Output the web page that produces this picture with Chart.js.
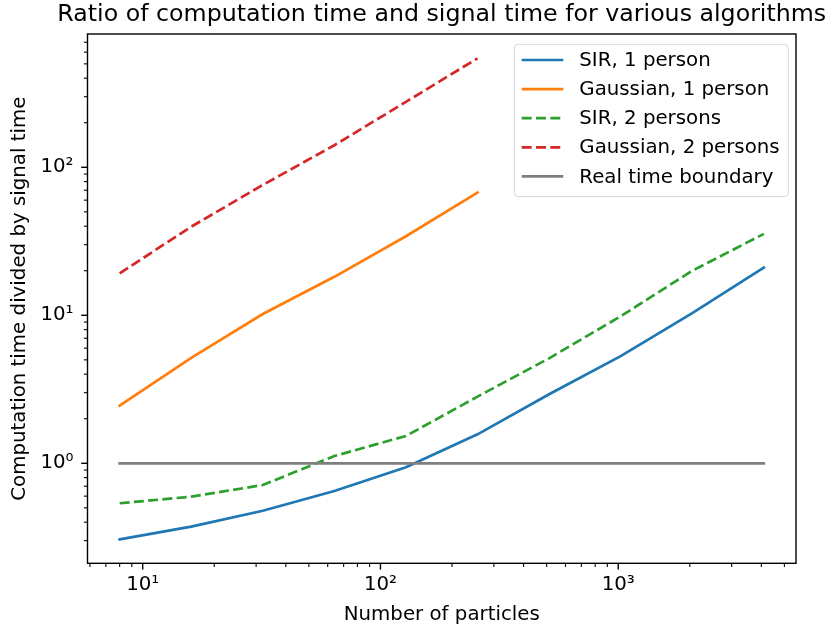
<!DOCTYPE html>
<html>

<head>
    <title>Computation time ratio</title>
    <script src="https://cdn.jsdelivr.net/npm/chart.js@4.4.0/dist/chart.umd.min.js"></script>
    <style>
        body {
            margin: 0;
            background: white;
        }

        #wrap {
            width: 832px;
            height: 629px;
        }
    </style>
</head>

<body>
    <div id="wrap"><canvas id="ratio_chart"></canvas></div>

    <script>
        // values
        const particles = [8, 16, 32, 64, 128, 256, 512, 1024, 2048, 4096];
        const sir1 = [0.306, 0.373, 0.478, 0.650, 0.94, 1.57, 2.93, 5.3, 10.35, 21.0];
        const gauss1 = [2.45, 5.15, 10.2, 18.2, 34.2, 67.5];
        const sir2 = [0.537, 0.595, 0.713, 1.12, 1.53, 2.82, 5.12, 9.85, 20.0, 35.5];
        const gauss2 = [19.2, 39.7, 76, 141, 277, 545];
        const boundaryX = [8, 4096];
        const boundaryY = [1, 1];

        const labels = ['SIR, 1 person', 'Gaussian, 1 person', 'SIR, 2 persons', 'Gaussian, 2 persons', 'Real time boundary'];
        const colors = ['#1f77b4', '#ff7f0e', '#2ca02c', '#d62728', '#7f7f7f'];
        const titleText = 'Ratio of computation time and signal time for various algorithms';
        const sup = { '0': '\u2070', '1': '\u00b9', '2': '\u00b2', '3': '\u00b3' };

        const FONT = "'DejaVu Sans', sans-serif";
        const FS = 19.8;
        const dash = [10, 4.3];

        function pts(xs, ys) {
            return ys.map((y, i) => ({ x: xs[i], y: y }));
        }

        function isPow10(v) {
            const l = Math.log10(v);
            return Math.abs(l - Math.round(l)) < 1e-9;
        }

        function powLabel(v) {
            if (!isPow10(v)) return '';
            return '10' + sup[String(Math.round(Math.log10(v)))];
        }

        const series = [sir1, gauss1, sir2, gauss2, boundaryY];
        const xs = [particles, particles, particles, particles, boundaryX];
        const dashed = [false, false, true, true, false];

        const datasets = series.map((s, i) => ({
            label: labels[i],
            data: pts(xs[i], s),
            borderColor: colors[i],
            backgroundColor: colors[i],
            borderWidth: 2.7,
            borderDash: dashed[i] ? dash : [],
            borderCapStyle: dashed[i] ? 'butt' : 'square',
            pointRadius: 0,
            tension: 0,
            fill: false,
            order: 5 - i
        }));

        // frame, tick marks, title and legend done by hand to look like matplotlib
        const decorations = {
            id: 'decorations',
            afterDraw(chart) {
                const ctx = chart.ctx;
                const a = chart.chartArea;
                ctx.save();

                // tick marks
                ctx.strokeStyle = '#000';
                for (const id of ['x', 'y']) {
                    const sc = chart.scales[id];
                    const e0 = Math.floor(Math.log10(sc.min));
                    const e1 = Math.ceil(Math.log10(sc.max));
                    for (let e = e0; e <= e1; e++) {
                        for (let k = 1; k <= 9; k++) {
                            const v = k * Math.pow(10, e);
                            if (v < sc.min || v > sc.max) continue;
                            const p = sc.getPixelForValue(v);
                            const len = k === 1 ? 6.3 : 3.6;
                            ctx.lineWidth = k === 1 ? 1.4 : 1.1;
                            ctx.beginPath();
                            if (id === 'x') {
                                ctx.moveTo(p, a.bottom);
                                ctx.lineTo(p, a.bottom + len);
                            } else {
                                ctx.moveTo(a.left, p);
                                ctx.lineTo(a.left - len, p);
                            }
                            ctx.stroke();
                        }
                    }
                }

                // axes frame
                ctx.lineWidth = 1.4;
                ctx.strokeRect(a.left, a.top, a.right - a.left, a.bottom - a.top);

                // title
                ctx.fillStyle = '#000';
                ctx.font = '23.7px ' + FONT;
                ctx.textAlign = 'center';
                ctx.textBaseline = 'middle';
                ctx.fillText(titleText, (a.left + a.right) / 2, 15);

                // legend
                const bw = 274, bh = 152.4;
                const bx = a.right - 7.7 - bw, by = a.top + 10.3;
                ctx.beginPath();
                ctx.roundRect(bx, by, bw, bh, 4);
                ctx.fillStyle = 'rgba(255,255,255,0.8)';
                ctx.fill();
                ctx.strokeStyle = '#d6d6d6';
                ctx.lineWidth = 1;
                ctx.stroke();
                ctx.font = FS + 'px ' + FONT;
                ctx.textAlign = 'left';
                chart.data.datasets.forEach((ds, i) => {
                    const cy = by + 15.7 + i * 29.1;
                    ctx.strokeStyle = ds.borderColor;
                    ctx.lineWidth = ds.borderWidth;
                    ctx.setLineDash(ds.borderDash);
                    ctx.lineCap = 'butt';
                    ctx.beginPath();
                    ctx.moveTo(bx + 7.4, cy);
                    ctx.lineTo(bx + 49, cy);
                    ctx.stroke();
                    ctx.setLineDash([]);
                    ctx.fillStyle = '#000';
                    ctx.fillText(ds.label, bx + 65, cy + 1);
                });

                ctx.restore();
            }
        };

        new Chart(document.getElementById('ratio_chart'), {
            type: 'line',
            data: { datasets: datasets },
            options: {
                responsive: true,
                maintainAspectRatio: false,
                animation: false,
                layout: { padding: { top: 34, right: 36, left: 0, bottom: 0 } },
                plugins: {
                    legend: { display: false },
                    title: { display: false },
                    tooltip: { enabled: false }
                },
                scales: {
                    x: {
                        type: 'logarithmic',
                        min: 5.86,
                        max: 5594,
                        grid: { drawOnChartArea: false, tickLength: 7, tickColor: 'rgba(0,0,0,0)' },
                        border: { display: false },
                        ticks: {
                            autoSkip: false,
                            maxRotation: 0,
                            padding: 3,
                            color: '#000',
                            font: { family: FONT, size: FS },
                            callback: (v) => powLabel(v)
                        },
                        title: {
                            display: true,
                            text: 'Number of particles',
                            color: '#000',
                            font: { family: FONT, size: FS },
                            padding: { top: 0, bottom: 2 }
                        },
                        afterFit: (s) => { s.height = 65.7; }
                    },
                    y: {
                        type: 'logarithmic',
                        min: 0.211,
                        max: 795.7,
                        grid: { drawOnChartArea: false, tickLength: 7, tickColor: 'rgba(0,0,0,0)' },
                        border: { display: false },
                        ticks: {
                            autoSkip: false,
                            padding: 7,
                            color: '#000',
                            font: { family: FONT, size: FS },
                            callback: (v) => powLabel(v)
                        },
                        title: {
                            display: true,
                            text: 'Computation time divided by signal time',
                            color: '#000',
                            font: { family: FONT, size: FS },
                            padding: { top: 8, bottom: 0 }
                        },
                        afterFit: (s) => { s.width = 87.5; }
                    }
                }
            },
            plugins: [decorations]
        });
    </script>
</body>

</html>
